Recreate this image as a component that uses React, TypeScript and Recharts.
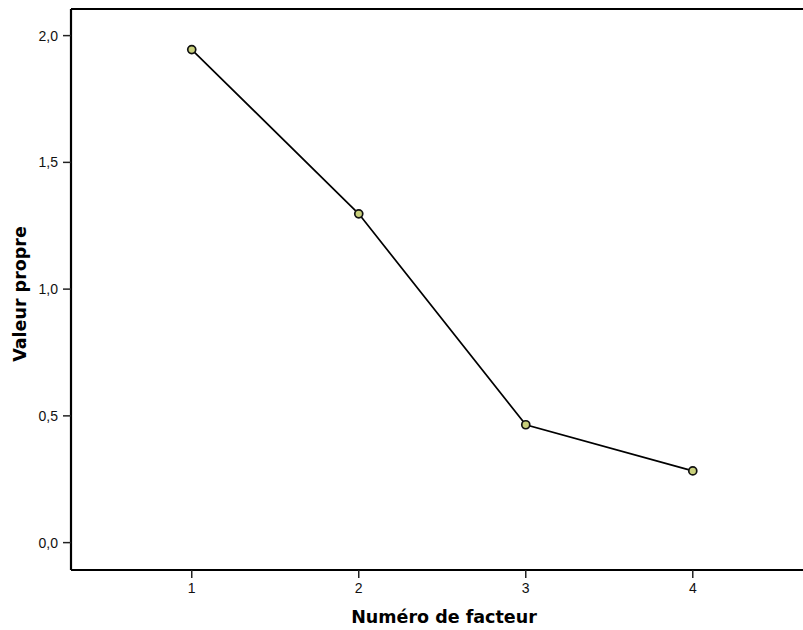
import React from "react";
import {
  LineChart,
  Line,
  XAxis,
  YAxis,
  ReferenceLine,
} from "recharts";

// scree plot: eigenvalue per factor number
const factors = [1, 2, 3, 4];
const eigenvalues = [1.945, 1.297, 0.465, 0.283];
const xTicks = [1, 2, 3, 4];
const yTicks = [0, 0.5, 1.0, 1.5, 2.0];

const X_DOMAIN: [number, number] = [0.277, 4.66];
const Y_DOMAIN: [number, number] = [-0.108, 2.105];

const data = factors.map((f, i) => ({ factor: f, value: eigenvalues[i] }));

const AXIS_FONT = "'Liberation Sans', Arial, sans-serif";
const TITLE_FONT = "'DejaVu Sans', sans-serif";

const fmt = (v: number) => v.toFixed(1).replace(".", ",");

const titleStyle = {
  fontSize: 17.5,
  fontWeight: "bold" as const,
  fill: "#000",
  fontFamily: TITLE_FONT,
};

// axis titles placed by hand to line up with the SPSS-style output
const XTitle = () => (
  <text x={444} y={623} textAnchor="middle" style={titleStyle}>
    Numéro de facteur
  </text>
);

const YTitle = () => (
  <text
    x={20}
    y={294}
    transform="rotate(-90 20 294)"
    textAnchor="middle"
    dominantBaseline="central"
    style={titleStyle}
  >
    Valeur propre
  </text>
);

export default function App() {
  return (
    <div style={{ position: "absolute", left: 0, top: 0, width: 803, height: 630, background: "#fff" }}>
      <LineChart
        width={803}
        height={630}
        data={data}
        margin={{ top: 9, right: 0, left: 0, bottom: 0 }}
      >
        <XAxis
          dataKey="factor"
          type="number"
          domain={X_DOMAIN}
          ticks={xTicks}
          allowDataOverflow
          height={60}
          axisLine={{ stroke: "#000", strokeWidth: 2.2 }}
          tickLine={{ stroke: "#222", strokeWidth: 1.5 }}
          tickSize={8}
          tickMargin={5}
          tick={{ fontSize: 14, fill: "#111", fontFamily: AXIS_FONT }}
          label={<XTitle />}
        />
        <YAxis
          type="number"
          domain={Y_DOMAIN}
          ticks={yTicks}
          allowDataOverflow
          width={71}
          axisLine={{ stroke: "#000", strokeWidth: 2.2 }}
          tickLine={{ stroke: "#222", strokeWidth: 1.5 }}
          tickSize={8}
          tickMargin={5}
          tickFormatter={fmt}
          tick={{ fontSize: 14, fill: "#111", fontFamily: AXIS_FONT }}
          label={<YTitle />}
        />
        <ReferenceLine y={Y_DOMAIN[1]} stroke="#000" strokeWidth={2.2} />
        <Line
          type="linear"
          dataKey="value"
          stroke="#000"
          strokeWidth={1.7}
          dot={{ r: 4, fill: "#c9d07c", stroke: "#111", strokeWidth: 1.7 }}
          activeDot={false}
          isAnimationActive={false}
        />
      </LineChart>
    </div>
  );
}
